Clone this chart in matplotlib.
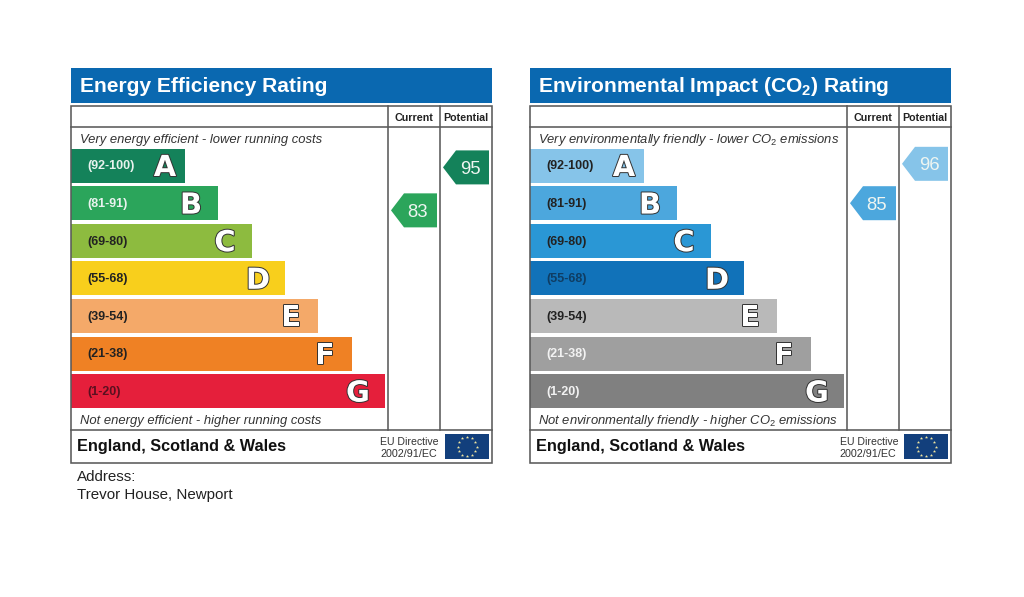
import matplotlib
matplotlib.use("Agg")
import numpy as np
import matplotlib.pyplot as plt
import matplotlib.patheffects as pe
from matplotlib.patches import Rectangle, Polygon

plt.rcParams['font.family'] = ['Liberation Sans', 'DejaVu Sans']
plt.rcParams['mathtext.fontset'] = 'custom'
plt.rcParams['mathtext.rm'] = 'Liberation Sans'
plt.rcParams['mathtext.it'] = 'Liberation Sans:italic'
plt.rcParams['mathtext.bf'] = 'Liberation Sans:bold'
plt.rcParams['mathtext.default'] = 'regular'

# ---- data ----
letters = ['A', 'B', 'C', 'D', 'E', 'F', 'G']
ranges = ['(92-100)', '(81-91)', '(69-80)', '(55-68)', '(39-54)', '(21-38)', '(1-20)']
bar_lengths = [114, 147, 181, 214, 247, 281, 314]
energy_colors = ['#14825a', '#2ba55b', '#8dbb3f', '#f8cf1c', '#f4a969', '#ef8124', '#e51f3b']
energy_label_colors = ['#e8f2ee', '#e8f2ee', '#222222', '#222222', '#222222', '#222222', '#5a1020']
impact_colors = ['#86c4e9', '#4ca7dd', '#2a97d5', '#1172b9', '#b9b9b9', '#9f9f9f', '#808080']
impact_label_colors = ['#222222', '#222222', '#222222', '#0f3d63', '#222222', '#f2f2f2', '#f2f2f2']
energy_current, energy_potential = 83, 95
impact_current, impact_potential = 85, 96

PX = 0.72  # points per pixel at dpi=100
GREY = '#5a5a5a'

fig = plt.figure(figsize=(10.24, 5.97), dpi=100, facecolor='white')
ax = fig.add_axes([0, 0, 1, 1])
ax.set_xlim(0, 1024)
ax.set_ylim(597, 0)
ax.axis('off')


def score_y(v):
    return 507.5 - 3.58 * v


def arrow(x0, v, color):
    y = score_y(v)
    w, h, tip = 46, 34, 13
    ax.add_patch(Polygon([(x0, y), (x0 + tip, y - h / 2), (x0 + w, y - h / 2),
                          (x0 + w, y + h / 2), (x0 + tip, y + h / 2)],
                         closed=True, fc=color, ec='none', zorder=3))
    ax.text(x0 + 27, y + 6.5, str(v), color='#eef5f1', fontsize=18.5 * PX,
            ha='center', va='baseline', zorder=4)


def flag(x0, y0):
    ax.add_patch(Rectangle((x0, y0), 44, 25, fc='#123f7c', ec='none', zorder=3))
    ang = np.deg2rad(np.arange(0, 360, 30))
    ax.scatter(x0 + 22 + 9.5 * np.cos(ang), y0 + 12.5 + 9.5 * np.sin(ang), marker='*',
               s=6, c='#f0e6a0', linewidths=0, zorder=4)


def panel(x0, title, colors, label_colors, top_text, bottom_text, cur, pot, title_dx=0, note_dx=0):
    right = x0 + 421
    ax.add_patch(Rectangle((x0, 68), 421, 35, fc='#0a68b0', ec='none'))
    ax.text(x0 + 9 + title_dx, 92, title, color='white', fontsize=21 * PX, fontweight='bold',
            ha='left', va='baseline')
    lw = 1.15
    ax.add_patch(Rectangle((x0, 106), 421, 357, fc='none', ec=GREY, lw=lw, zorder=5))
    ax.plot([x0, right], [127, 127], color=GREY, lw=lw, zorder=5)
    ax.plot([x0, right], [430, 430], color=GREY, lw=lw, zorder=5)
    ax.plot([x0 + 317, x0 + 317], [106, 430], color=GREY, lw=lw, zorder=5)
    ax.plot([x0 + 369, x0 + 369], [106, 430], color=GREY, lw=lw, zorder=5)
    ax.text(x0 + 343, 121, 'Current', fontsize=10.8 * PX, fontweight='bold', color='#222222',
            ha='center', va='baseline')
    ax.text(x0 + 395, 121, 'Potential', fontsize=10.6 * PX, fontweight='bold', color='#222222',
            ha='center', va='baseline')
    ax.text(x0 + 9 + note_dx, 142.5, top_text, fontsize=13 * PX, style='italic', color='#333333',
            ha='left', va='baseline')
    ax.text(x0 + 9 + note_dx, 424, bottom_text, fontsize=13 * PX, style='italic', color='#333333',
            ha='left', va='baseline')
    ys = [165.5 + 37.6 * i for i in range(len(letters))]
    ax.barh(ys, bar_lengths, height=34, left=x0, color=colors, linewidth=0, zorder=2)
    for i, y in enumerate(ys):
        ax.text(x0 + 16, y + 4, ranges[i], fontsize=12.5 * PX, fontweight='bold',
                color=label_colors[i], ha='left', va='baseline', zorder=3)
        inset = 20 if i == 0 else 27
        ax.text(x0 + bar_lengths[i] - inset, y + 10.5, letters[i], fontsize=29 * PX,
                family='DejaVu Sans', fontweight='bold', color='white',
                ha='center', va='baseline', zorder=3,
                path_effects=[pe.withStroke(linewidth=1.4, foreground='#333333')])
    arrow(x0 + 320, cur, colors[1])
    arrow(x0 + 372, pot, colors[0])
    ax.text(x0 + 6, 451.5, 'England, Scotland & Wales', fontsize=16.2 * PX, fontweight='bold',
            color='#111111', ha='left', va='baseline')
    ax.text(x0 + 368, 445, 'EU Directive', fontsize=10.5 * PX, color='#333333',
            ha='right', va='baseline')
    ax.text(x0 + 309, 457, '2002/91/EC', fontsize=10.8 * PX, color='#333333',
            ha='left', va='baseline')
    flag(x0 + 374, 434)


panel(71, 'Energy Efficiency Rating', energy_colors, energy_label_colors,
      'Very energy efficient - lower running costs',
      'Not energy efficient - higher running costs', energy_current, energy_potential)
panel(530, r'Environmental Impact (CO$_{\mathbf{2}}$) Rating', impact_colors, impact_label_colors,
      r'Very environmentally friendly - lower CO$_{\mathit{2}}$ emissions',
      r'Not environmentally friendly - higher CO$_{\mathit{2}}$ emissions',
      impact_current, impact_potential, title_dx=-1, note_dx=-1)

ax.text(77, 481, 'Address:', fontsize=15.1 * PX, color='#222222', ha='left', va='baseline')
ax.text(77, 498.5, 'Trevor House, Newport', fontsize=15.1 * PX, color='#222222', ha='left', va='baseline')

fig.savefig('out.png', dpi=100, facecolor='white')
